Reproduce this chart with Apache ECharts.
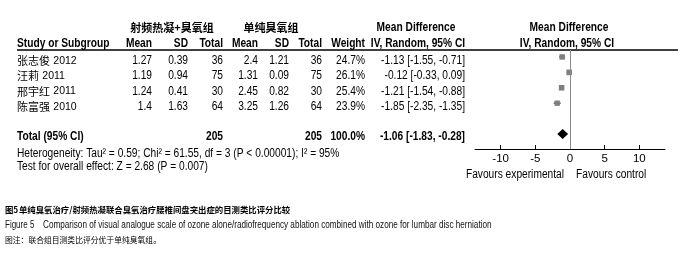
<!DOCTYPE html>
<html>
<head>
<meta charset="utf-8">
<script src="https://cdn.jsdelivr.net/npm/echarts@6/dist/echarts.min.js"></script>
<style>html,body{margin:0;background:#fff}#main{width:684px;height:256px}</style>
</head>
<body>
<div id="main"></div>
<script>
// 研究数据
var studies = ['张志俊', '汪莉', '邢宇红', '陈富强'];
var years = ['2012', '2011', '2011', '2010'];
var expMean = [1.27, 1.19, 1.24, 1.4];
var expSD = [0.39, 0.94, 0.41, 1.63];
var expTotal = [36, 75, 30, 64];
var ctlMean = [2.4, 1.31, 2.45, 3.25];
var ctlSD = [1.21, 0.09, 0.82, 1.26];
var ctlTotal = [36, 75, 30, 64];
var weight = [24.7, 26.1, 25.4, 23.9];
var md = [-1.13, -0.12, -1.21, -1.85];
var ciLow = [-1.55, -0.33, -1.54, -2.35];
var ciHigh = [-0.71, 0.09, -0.88, -1.35];
// 合计
var totalN = [205, 205];
var totalWeight = '100.0%';
var totalMD = [-1.06, -1.83, -0.28]; // md, low, high
var xTicks = [-10, -5, 0, 5, 10];
var TOTAL_ROW = 5;

var LATIN = 'Liberation Sans, Arial, sans-serif';
var CJK = 'Noto Sans CJK SC, sans-serif';
var SX = 0.85; // 横向压缩

var chart = echarts.init(document.getElementById('main'));

chart.setOption({
  animation: false,
  backgroundColor: '#fff',
  grid: { left: 475, top: 50, width: 190, height: 99 },
  xAxis: {
    type: 'value', min: -13.7, max: 13.7,
    splitLine: { show: false },
    axisLine: { onZero: false, lineStyle: { color: '#000', width: 1 } },
    axisTick: { inside: true, length: 4, lineStyle: { color: '#000' }, customValues: xTicks },
    axisLabel: { customValues: xTicks, color: '#000', fontSize: 11.5, fontFamily: LATIN, margin: 4 }
  },
  yAxis: { type: 'value', inverse: true, min: -0.45, max: 5.97, show: false },
  series: [
    {
      type: 'custom', name: 'ci',
      encode: { x: [0, 1], y: 2 },
      data: studies.map(function (s, i) { return [ciLow[i], ciHigh[i], i]; }),
      renderItem: function (params, api) {
        var a = api.coord([api.value(0), api.value(2)]);
        var b = api.coord([api.value(1), api.value(2)]);
        return { type: 'line', shape: { x1: a[0], y1: a[1], x2: b[0], y2: b[1] }, style: { stroke: '#000', lineWidth: 1 } };
      }
    },
    {
      type: 'scatter', name: 'md',
      symbol: 'rect',
      symbolSize: function (v, p) { return Math.sqrt(weight[p.dataIndex]) * 1.1; },
      itemStyle: { color: '#7f7f7f', opacity: 1 },
      data: md.map(function (v, i) { return [v, i]; }),
      markLine: {
        silent: true, symbol: ['none', 'none'],
        label: { show: false },
        lineStyle: { color: '#8c8c8c', width: 1, type: 'solid' },
        data: [{ xAxis: 0 }]
      }
    },
    {
      type: 'custom', name: 'total',
      encode: { x: [0, 1, 2], y: 3 },
      data: [[totalMD[1], totalMD[2], totalMD[0], TOTAL_ROW]],
      renderItem: function (params, api) {
        var l = api.coord([api.value(0), api.value(3)]);
        var r = api.coord([api.value(1), api.value(3)]);
        var c = api.coord([api.value(2), api.value(3)]);
        return {
          type: 'polygon',
          shape: { points: [[l[0], c[1]], [c[0], c[1] - 5], [r[0], c[1]], [c[0], c[1] + 5]] },
          style: { fill: '#000' }
        };
      }
    }
  ]
});

// 表格文字
function txt(str, x, y, align, bold, size) {
  return {
    type: 'text', x: x, y: y, scaleX: SX, silent: true,
    style: {
      text: str, x: 0, y: 0, fill: '#000',
      textAlign: align, align: align, textVerticalAlign: 'middle', verticalAlign: 'middle',
      font: (bold ? 'bold ' : '') + (size || 12) + 'px ' + LATIN
    }
  };
}
function cjk(str, x, y, align, bold, size) {
  return {
    type: 'text', x: x, y: y, silent: true,
    style: {
      text: str, x: 0, y: 0, fill: '#000',
      textAlign: align, align: align, textVerticalAlign: 'middle', verticalAlign: 'middle',
      font: (bold ? 'bold ' : '') + (size || 11) + 'px ' + CJK
    }
  };
}

var colX = [152, 188, 223, 258, 289, 322, 365];
var ciX = 465;
var g = [];
g.push(cjk('射频热凝+臭氧组', 172, 28, 'center', true));
g.push(cjk('单纯臭氧组', 271, 28, 'center', true));
g.push(txt('Mean Difference', 416, 28, 'center', true));
g.push(txt('Mean Difference', 569, 28, 'center', true));
g.push(txt('Study or Subgroup', 17, 43.5, 'left', true));
['Mean', 'SD', 'Total', 'Mean', 'SD', 'Total', 'Weight'].forEach(function (h, k) {
  g.push(txt(h, colX[k], 43.5, 'right', true));
});
g.push(txt('IV, Random, 95% CI', 418, 43.5, 'center', true));
g.push(txt('IV, Random, 95% CI', 567, 43.5, 'center', true));
g.push({ type: 'line', silent: true, shape: { x1: 17, y1: 50, x2: 678, y2: 50 }, style: { stroke: '#000', lineWidth: 1.5 } });

studies.forEach(function (s, i) {
  var y = chart.convertToPixel({ yAxisIndex: 0 }, i) + 3.7;
  g.push({
    type: 'text', x: 17, y: y, silent: true,
    style: {
      text: '{n|' + s + '} {y|' + years[i] + '}', x: 0, y: 0, fill: '#000',
      textVerticalAlign: 'middle', verticalAlign: 'middle',
      rich: {
        n: { fontFamily: CJK, fontSize: 11 },
        y: { fontFamily: LATIN, fontSize: 10.5 }
      }
    }
  });
  var cells = [expMean[i], expSD[i], expTotal[i], ctlMean[i], ctlSD[i], ctlTotal[i], weight[i].toFixed(1) + '%'];
  cells.forEach(function (c, k) { g.push(txt(String(c), colX[k], y, 'right', false)); });
  g.push(txt(md[i].toFixed(2) + ' [' + ciLow[i].toFixed(2) + ', ' + ciHigh[i].toFixed(2) + ']', ciX, y, 'right', false));
});

var ty = chart.convertToPixel({ yAxisIndex: 0 }, TOTAL_ROW) + 2.7;
g.push(txt('Total (95% CI)', 17, ty, 'left', true));
g.push(txt(String(totalN[0]), colX[2], ty, 'right', true));
g.push(txt(String(totalN[1]), colX[5], ty, 'right', true));
g.push(txt(totalWeight, colX[6], ty, 'right', true));
g.push(txt(totalMD[0].toFixed(2) + ' [' + totalMD[1].toFixed(2) + ', ' + totalMD[2].toFixed(2) + ']', ciX, ty, 'right', true));
g.push(txt('Heterogeneity: Tau² = 0.59; Chi² = 61.55, df = 3 (P < 0.00001); I² = 95%', 17, 154, 'left', false));
g.push(txt('Test for overall effect: Z = 2.68 (P = 0.007)', 17, 167, 'left', false));

// 轴下方的说明
var x0 = chart.convertToPixel({ xAxisIndex: 0 }, 0);
g.push(txt('Favours experimental', x0 - 6, 175, 'right', false));
g.push(txt('Favours control', x0 + 6, 175, 'left', false));

// 图题
g.push(cjk('图5', 5, 210, 'left', true, 8.4));
g.push(cjk('单纯臭氧治疗/射频热凝联合臭氧治疗腰椎间盘突出症的目测类比评分比较', 19, 210, 'left', true, 8.4));
var cap = txt('Figure 5', 5, 225, 'left', false, 10); cap.scaleX = 0.8; cap.style.fill = '#111'; g.push(cap);
var cap2 = txt('Comparison of visual analogue scale of ozone alone/radiofrequency ablation combined with ozone for lumbar disc herniation', 43, 225, 'left', false, 10);
cap2.scaleX = 0.815; cap2.style.fill = '#111'; g.push(cap2);
g.push(cjk('图注：联合组目测类比评分优于单纯臭氧组。', 5, 240, 'left', false, 7.8));

chart.setOption({ graphic: { elements: g } });
</script>
</body>
</html>
